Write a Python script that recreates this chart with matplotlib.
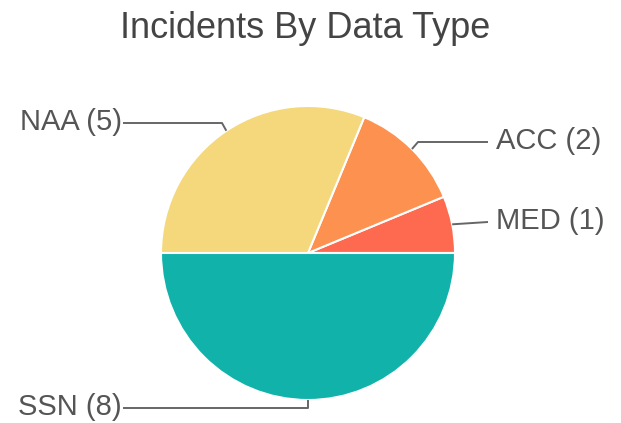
import matplotlib
matplotlib.use("Agg")
import matplotlib.pyplot as plt
import numpy as np

plt.rcParams['font.family'] = ['Liberation Sans', 'DejaVu Sans']

labels = ["MED", "ACC", "NAA", "SSN"]
counts = [1, 2, 5, 8]
colors = ["#fe6a4f", "#fd9150", "#f4d87b", "#10b2aa"]

W, H = 621, 423
fig = plt.figure(figsize=(W/100, H/100), dpi=100)
ax = fig.add_axes([0, 0, 1, 1])

cx, cy, r = 308, H - 253, 147
wedges, _ = ax.pie(counts, colors=colors, startangle=0, counterclock=True,
                   center=(cx, cy), radius=r, frame=True,
                   wedgeprops=dict(edgecolor="white", linewidth=1.5))
ax.set_xlim(0, W)
ax.set_ylim(0, H)
ax.set_aspect('equal')
ax.axis('off')

fig.text(305/W, 1 - 28/H, "Incidents By Data Type", ha='center', va='center',
         fontsize=26, color="#444444")

# leader lines: edge point -> elbow -> end, text placed at end
layout = {
    "MED": [(488, 222)],
    "ACC": [(418, 142), (488, 142)],
    "NAA": [(222, 123), (123, 123)],
    "SSN": [(308, 408), (123, 408)],
}
lc = "#666666"
for w, lab, n in zip(wedges, labels, counts):
    mid = np.deg2rad((w.theta1 + w.theta2) / 2)
    p0 = (cx + r*np.cos(mid), cy + r*np.sin(mid))
    pts = [p0] + [(x, H - y) for x, y in layout[lab]]
    xs, ys = zip(*pts)
    ax.plot(xs, ys, color=lc, lw=1.4, solid_capstyle='butt')
    ex, ey = pts[-1]
    if ex > cx:
        ax.text(ex + 8, ey + 1, f"{lab} ({n})", ha='left', va='center',
                fontsize=21, color="#555555")
    else:
        ax.text(ex - 1, ey + 1, f"{lab} ({n})", ha='right', va='center',
                fontsize=21, color="#555555")

fig.savefig("out.png", dpi=100)
